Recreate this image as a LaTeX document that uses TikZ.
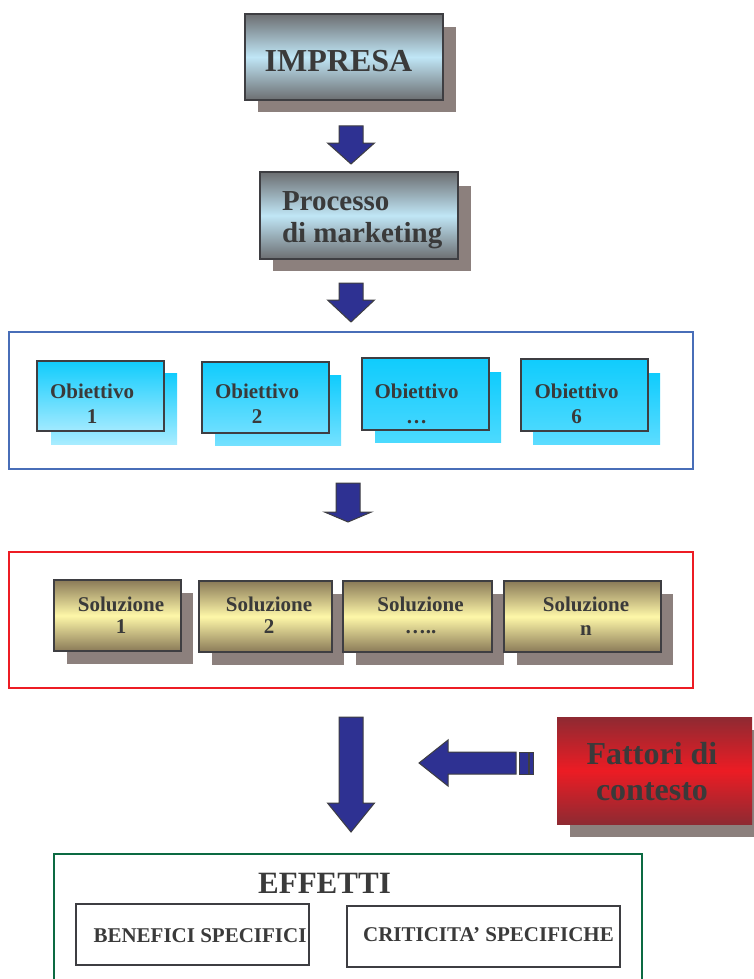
\documentclass[tikz,border=0pt]{standalone}
\usepackage{fontspec}
\setmainfont{Liberation Serif}
\usetikzlibrary{calc,backgrounds}
\definecolor{txt}{RGB}{58,58,58}
\definecolor{edge}{RGB}{62,62,66}
\definecolor{shd}{RGB}{140,128,125}
\definecolor{steel}{RGB}{108,110,113}
\definecolor{ice}{RGB}{192,230,246}
\definecolor{cyanA}{RGB}{16,204,253}
\definecolor{cyanB1}{RGB}{162,234,255}
\definecolor{cyanB2}{RGB}{110,223,255}
\definecolor{cyanB3}{RGB}{66,214,254}
\definecolor{cyanB4}{RGB}{74,217,254}
\definecolor{cyanS1}{RGB}{168,236,255}
\definecolor{cyanS2}{RGB}{116,225,255}
\definecolor{cyanS3}{RGB}{76,218,254}
\definecolor{cyanS4}{RGB}{92,220,255}
\definecolor{khaki}{RGB}{138,122,88}
\definecolor{cream}{RGB}{254,247,168}
\definecolor{dred}{RGB}{142,42,50}
\definecolor{bred}{RGB}{236,28,36}
\definecolor{navy}{RGB}{46,49,146}
\definecolor{frameblue}{RGB}{72,110,184}
\definecolor{framered}{RGB}{237,28,36}
\definecolor{framegreen}{RGB}{12,106,66}
\tikzset{
  box/.style={rectangle, anchor=north west, inner sep=0pt, outer sep=0pt, draw=edge, line width=1.3pt},
  greybox/.style={box, top color=steel, bottom color=steel, middle color=ice},
  cyanbox/.style={box, top color=cyanA, bottom color=#1},
  goldbox/.style={box, top color=khaki, bottom color=khaki, middle color=cream},
  redbox/.style={box, draw=none, top color=dred, bottom color=dred, middle color=bred},
  plainbox/.style={box, line width=1.2pt},
  frame/.style={rectangle, anchor=north west, inner sep=0pt, outer sep=0pt, line width=2.6pt, draw=#1},
  lbl/.style={inner sep=0pt, outer sep=0pt, anchor=base, text=txt},
  lblw/.style={lbl, anchor=base west},
  fbig/.style={font=\bfseries\fontsize{32}{36}\selectfont},
  fmid/.style={font=\bfseries\fontsize{29}{33}\selectfont},
  fsmall/.style={font=\bfseries\fontsize{21}{25}\selectfont},
  blkarrow/.style={fill=navy, draw=edge, line width=1pt, line join=miter},
  pics/blkdown/.style 2 args={code={
    \draw[blkarrow] (-12,0) -- (12,0) -- (12,{#1-#2}) -- (23.5,{#1-#2}) -- (0,#1)
      -- (-23.5,{#1-#2}) -- (-12,{#1-#2}) -- cycle;
  }},
  pics/blkleft/.style={code={
    \draw[blkarrow] (-4,-11) rectangle (0,11);
    \draw[blkarrow] (-14,-11) rectangle (-5,11);
    \draw[blkarrow] (-17,-11) -- (-85,-11) -- (-85,-23) -- (-114,0) -- (-85,23)
      -- (-85,11) -- (-17,11) -- cycle;
  }}
}
\begin{document}
\begin{tikzpicture}[x=1pt,y=-1pt]
\useasboundingbox (0,0) rectangle (753,979);

% top boxes
\node[greybox, minimum width=198pt, minimum height=86pt] (imp) at (245,14) {};
\node[lbl, fbig] (impT) at (338.5,72) {IMPRESA};

\node[greybox, minimum width=198pt, minimum height=87pt] (proc) at (260,172) {};
\node[lblw, fmid] (procT1) at (282,210.5) {Processo};
\node[lblw, fmid] (procT2) at (282,242) {di marketing};

\pic at ($(imp.south)+(7,26)$) {blkdown={38}{21}};
\pic at ($(proc.south)+(-8,24)$) {blkdown={39}{22}};

% objectives
\node[frame=frameblue, minimum width=684pt, minimum height=137pt] (frameB) at (9,332) {};
\node[cyanbox=cyanB1, minimum width=127pt, minimum height=70pt] (o1) at (37,361) {};
\node[cyanbox=cyanB2, minimum width=127pt, minimum height=71pt] (o2) at (202,362) {};
\node[cyanbox=cyanB3, minimum width=127pt, minimum height=72pt] (o3) at (362,358) {};
\node[cyanbox=cyanB4, minimum width=127pt, minimum height=72pt] (o4) at (521,359) {};
\node[lbl, fsmall] (o1a) at (92,398) {Obiettivo};
\node[lbl, fsmall] (o1b) at (92,423) {1};
\node[lbl, fsmall] (o2a) at (257,398) {Obiettivo};
\node[lbl, fsmall] (o2b) at (257,423) {2};
\node[lbl, fsmall] (o3a) at (416.5,398) {Obiettivo};
\node[lbl, fsmall] (o3b) at (416.5,423) {…};
\node[lbl, fsmall] (o4a) at (576.5,398) {Obiettivo};
\node[lbl, fsmall] (o4b) at (576.5,423) {6};

\pic at ($(frameB.south)+(-3,14)$) {blkdown={39}{10}};

% solutions
\node[frame=framered, minimum width=684pt, minimum height=136pt] (frameR) at (9,552) {};
\node[goldbox, minimum width=127pt, minimum height=71pt] (s1) at (54,580) {};
\node[goldbox, minimum width=133pt, minimum height=71pt] (s2) at (199,581) {};
\node[goldbox, minimum width=149pt, minimum height=71pt] (s3) at (343,581) {};
\node[goldbox, minimum width=157pt, minimum height=71pt] (s4) at (504,581) {};
\node[lbl, fsmall] (s1a) at (121,611) {Soluzione};
\node[lbl, fsmall] (s1b) at (121,633) {1};
\node[lbl, fsmall] (s2a) at (269,611) {Soluzione};
\node[lbl, fsmall] (s2b) at (269,633) {2};
\node[lbl, fsmall] (s3a) at (420.5,611) {Soluzione};
\node[lbl, fsmall] (s3b) at (420.5,633) {…..};
\node[lbl, fsmall] (s4a) at (586,611) {Soluzione};
\node[lbl, fsmall] (s4b) at (586,635) {n};

% context
\node[redbox, minimum width=195pt, minimum height=107pt] (fatt) at (557,717) {};
\node[lbl, fbig] (fattA) at (652,764) {Fattori di};
\node[lbl, fbig] (fattB) at (652,800) {contesto};

\pic at ($(frameR.south)+(0,29)$) {blkdown={115}{29}};
\pic at ($(fatt.west)+(-24,-7.5)$) {blkleft};

% effects
\node[frame=framegreen, minimum width=588pt, minimum height=160pt] (frameG) at (54,854) {};
\node[lbl, font=\bfseries\fontsize{31}{35}\selectfont] (effT) at (324.5,893) {EFFETTI};
\node[plainbox, minimum width=233pt, minimum height=61pt] (ben) at (76,904) {};
\node[plainbox, minimum width=273pt, minimum height=61pt] (crit) at (347,906) {};
\node[lbl, fsmall] (benT) at (200,942) {BENEFICI SPECIFICI};
\node[lbl, fsmall] (critT) at (488.5,941) {CRITICITA’ SPECIFICHE};

% shadows
\begin{scope}[on background layer]
  \fill[shd] ($(imp.north west)+(13,13)$) rectangle ($(imp.south east)+(13,12)$);
  \fill[shd] ($(proc.north west)+(13,14)$) rectangle ($(proc.south east)+(13,12)$);
  \shade[top color=cyanA, bottom color=cyanS1] ($(o1.north west)+(14,12)$) rectangle ($(o1.south east)+(13,13)$);
  \shade[top color=cyanA, bottom color=cyanS2] ($(o2.north west)+(13,13)$) rectangle ($(o2.south east)+(12,12)$);
  \shade[top color=cyanA, bottom color=cyanS3] ($(o3.north west)+(13,14)$) rectangle ($(o3.south east)+(12,12)$);
  \shade[top color=cyanA, bottom color=cyanS4] ($(o4.north west)+(12,14)$) rectangle ($(o4.south east)+(12,13)$);
  \foreach \s in {s1,s2,s3,s4}
    \fill[shd] ($(\s.north west)+(13,13)$) rectangle ($(\s.south east)+(12,13)$);
  \fill[shd] ($(fatt.north west)+(13,13)$) rectangle ($(fatt.south east)+(13,13)$);
\end{scope}
\end{tikzpicture}
\end{document}
